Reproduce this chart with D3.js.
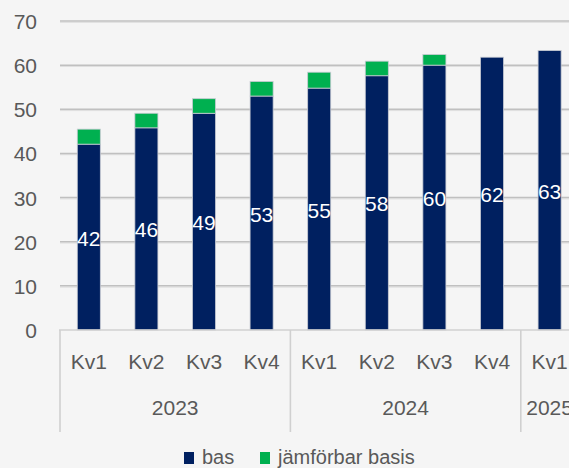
<!DOCTYPE html>
<html>
<head>
<meta charset="utf-8">
<script src="https://cdn.jsdelivr.net/npm/d3@7"></script>
<style>
  html, body { margin: 0; padding: 0; background: #f5f5f5; overflow: hidden; }
  svg { display: block; font-family: "Liberation Sans", Arial, sans-serif; }
</style>
</head>
<body>
<svg id="chart" width="569" height="468"></svg>
<script>
const quarters = ["Kv1","Kv2","Kv3","Kv4","Kv1","Kv2","Kv3","Kv4","Kv1"];
const years = ["2023","2024","2025"];
const yearSpan = [4, 4, 1];
const bas = [42.1, 45.8, 49.1, 53.0, 54.8, 57.6, 60.0, 61.8, 63.3];
const jamforbar = [3.4, 3.3, 3.3, 3.3, 3.6, 3.3, 2.4, 0, 0];
const yTicks = [0, 10, 20, 30, 40, 50, 60, 70];
const seriesNames = ["bas", "jämförbar basis"];
const colors = ["#002060", "#00b050"];

const svg = d3.select("#chart");
const W = 569, H = 468;
svg.append("rect").attr("width", W).attr("height", H).attr("fill", "#f5f5f5");

const left = 60, step = 57.6;
const x = d3.scaleBand().domain(d3.range(quarters.length))
  .range([left, left + step * quarters.length]).paddingInner(0.6).paddingOuter(0.3);
const y = d3.scaleLinear().domain([0, 70]).range([330, 21]);

// gridlines
const grid = svg.append("g");
yTicks.filter(t => t > 0).forEach(t => {
  grid.append("line").attr("x1", left).attr("x2", W).attr("y1", y(t) + 1.3).attr("y2", y(t) + 1.3)
    .attr("stroke", "#dedede").attr("stroke-width", 1);
  grid.append("line").attr("x1", left).attr("x2", W).attr("y1", y(t)).attr("y2", y(t))
    .attr("stroke", "#c0c0c0").attr("stroke-width", 1.5);
});

// y axis labels
const yAxis = d3.axisLeft(y).tickValues(yTicks).tickSize(0).tickPadding(0);
const ya = svg.append("g").attr("transform", `translate(37,0)`).call(yAxis);
ya.select(".domain").remove();
ya.selectAll("text").attr("font-size", 21).attr("fill", "#595959")
  .attr("font-family", "Liberation Sans, Arial, sans-serif").attr("dy", "0.36em");

// stacked data
const rows = quarters.map((q, i) => ({ i, bas: bas[i], jam: jamforbar[i] }));
const stack = d3.stack().keys(["bas", "jam"])(rows);

stack.forEach((layer, li) => {
  svg.append("g").selectAll("rect").data(layer).join("rect")
    .filter(d => d[1] - d[0] > 0)
    .attr("x", d => x(d.data.i))
    .attr("width", x.bandwidth())
    .attr("y", d => y(d[1]))
    .attr("height", d => y(d[0]) - y(d[1]))
    .attr("fill", colors[li])
    .attr("stroke", "#c8cbd3").attr("stroke-width", 0.8);
});

// value labels
svg.append("g").selectAll("text").data(rows).join("text")
  .attr("x", d => x(d.i) + x.bandwidth() / 2)
  .attr("y", d => (y(0) + y(d.bas)) / 2 + 1)
  .attr("dy", "0.36em")
  .attr("text-anchor", "middle")
  .attr("font-size", 21).attr("fill", "#ffffff")
  .text(d => Math.round(d.bas));

// category axis frame
const axisTop = 330, axisBottom = 432;
const frame = svg.append("g").attr("stroke", "#d0d0d0").attr("stroke-width", 1.6);
frame.append("line").attr("x1", left - 1).attr("x2", W).attr("y1", axisTop).attr("y2", axisTop);
let acc = 0;
const bounds = [0];
yearSpan.forEach(s => { acc += s; bounds.push(acc); });
bounds.forEach(b => {
  const bx = left + b * step;
  if (bx < W) frame.append("line").attr("x1", bx).attr("x2", bx).attr("y1", axisTop).attr("y2", axisBottom);
});

// quarter labels
svg.append("g").selectAll("text").data(quarters).join("text")
  .attr("x", (d, i) => x(i) + x.bandwidth() / 2)
  .attr("y", 361).attr("dy", "0.36em")
  .attr("text-anchor", "middle").attr("font-size", 21).attr("fill", "#595959")
  .text(d => d);

// year labels
svg.append("g").selectAll("text").data(years).join("text")
  .attr("x", (d, i) => left + (bounds[i] + bounds[i + 1]) / 2 * step)
  .attr("y", 407).attr("dy", "0.36em")
  .attr("text-anchor", "middle").attr("font-size", 21).attr("fill", "#595959")
  .text(d => d);

// legend
const lg = svg.append("g");
const legendItems = [{ name: seriesNames[0], color: colors[0], x: 184 }, { name: seriesNames[1], color: colors[1], x: 260 }];
legendItems.forEach(it => {
  lg.append("rect").attr("x", it.x).attr("y", 452).attr("width", 10).attr("height", 12).attr("fill", it.color);
  lg.append("text").attr("x", it.x + 18).attr("y", 464)
    .attr("font-size", 20).attr("fill", "#595959").text(it.name);
});
</script>
</body>
</html>
